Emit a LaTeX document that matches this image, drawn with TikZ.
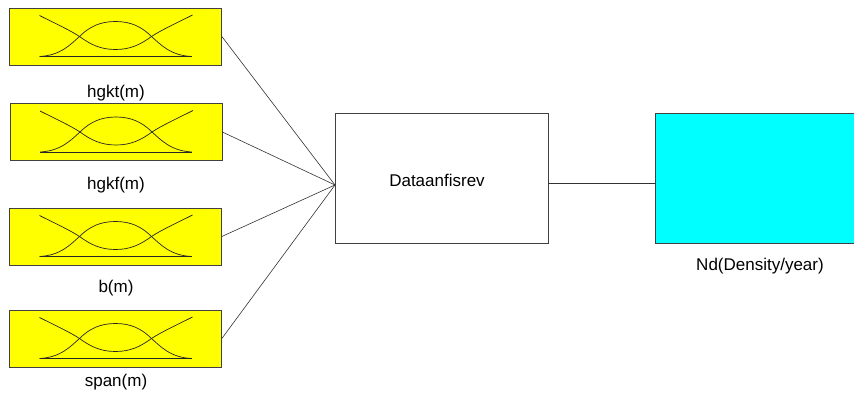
\documentclass[tikz,border=0pt]{standalone}
\usepackage{fontspec}
\setmainfont{Liberation Sans}
\definecolor{mfyellow}{RGB}{255,255,0}
\definecolor{outcyan}{RGB}{0,255,255}
\begin{document}
\begin{tikzpicture}[x=1pt,y=-1pt,
  mfbox/.style={draw=black!75, fill=mfyellow, line width=0.7pt, minimum width=212pt, minimum height=57pt, inner sep=0pt},
  sysbox/.style={draw=black!75, fill=white, line width=0.7pt, minimum width=213pt, minimum height=130pt, inner sep=0pt},
  outbox/.style={draw=black!75, fill=outcyan, line width=0.7pt, minimum width=210pt, minimum height=130pt, inner sep=0pt},
  lbl/.style={font=\fontsize{17}{20}\selectfont, inner sep=0pt},
  conn/.style={draw=black!80, line width=0.6pt},
  mfcurve/.style={draw=black!85, line width=0.7pt},
  mficon/.pic={
    \draw[mfcurve] (-76,20) .. controls (-55,19) and (-45,8) .. (-36,0)
      .. controls (-26,-10) and (-15,-15) .. (0,-15)
      .. controls (15,-15) and (26,-10) .. (36,0)
      .. controls (45,8) and (55,19) .. (76,20);
    \draw[mfcurve] (-76,-21) .. controls (-60,-13) and (-45,-6) .. (-36,0)
      .. controls (-25,8) and (-15,13) .. (0,13)
      .. controls (15,13) and (25,8) .. (36,0)
      .. controls (45,-6) and (60,-13) .. (77,-21.5);
    \draw[mfcurve] (-76,20) -- (76,20);
  }]
\useasboundingbox (0,0) rectangle (854,396);
\node[mfbox] (in1) at (115.5,36.5) {};
\node[mfbox] (in2) at (116,132) {};
\node[mfbox] (in3) at (115.5,236.5) {};
\node[mfbox] (in4) at (115.5,338.5) {};
\pic at (in1.center) {mficon};
\pic at (in2.center) {mficon};
\pic at (in3.center) {mficon};
\pic at (in4.center) {mficon};
\node[lbl] (l1) at (116,93) {hgkt(m)};
\node[lbl] (l2) at (116,185) {hgkf(m)};
\node[lbl] (l3) at (116,288) {b(m)};
\node[lbl] (l4) at (116,382) {span(m)};
\node[sysbox] (sys) at (441.5,178) {};
\node[lbl] (syst) at (437,180) {Dataanfisrev};
\node[outbox] (out) at (760,178) {};
\node[lbl] (outl) at (760,266) {Nd(Density/year)};
\coordinate (join) at (335,185);
\draw[conn] (in1.east) -- (join);
\draw[conn] (in2.east) -- (join);
\draw[conn] (in3.east) -- (join);
\draw[conn] (in4.east) -- (join);
\draw[conn] (sys.east |- 0,183) -- (out.west |- 0,183);
\end{tikzpicture}
\end{document}
